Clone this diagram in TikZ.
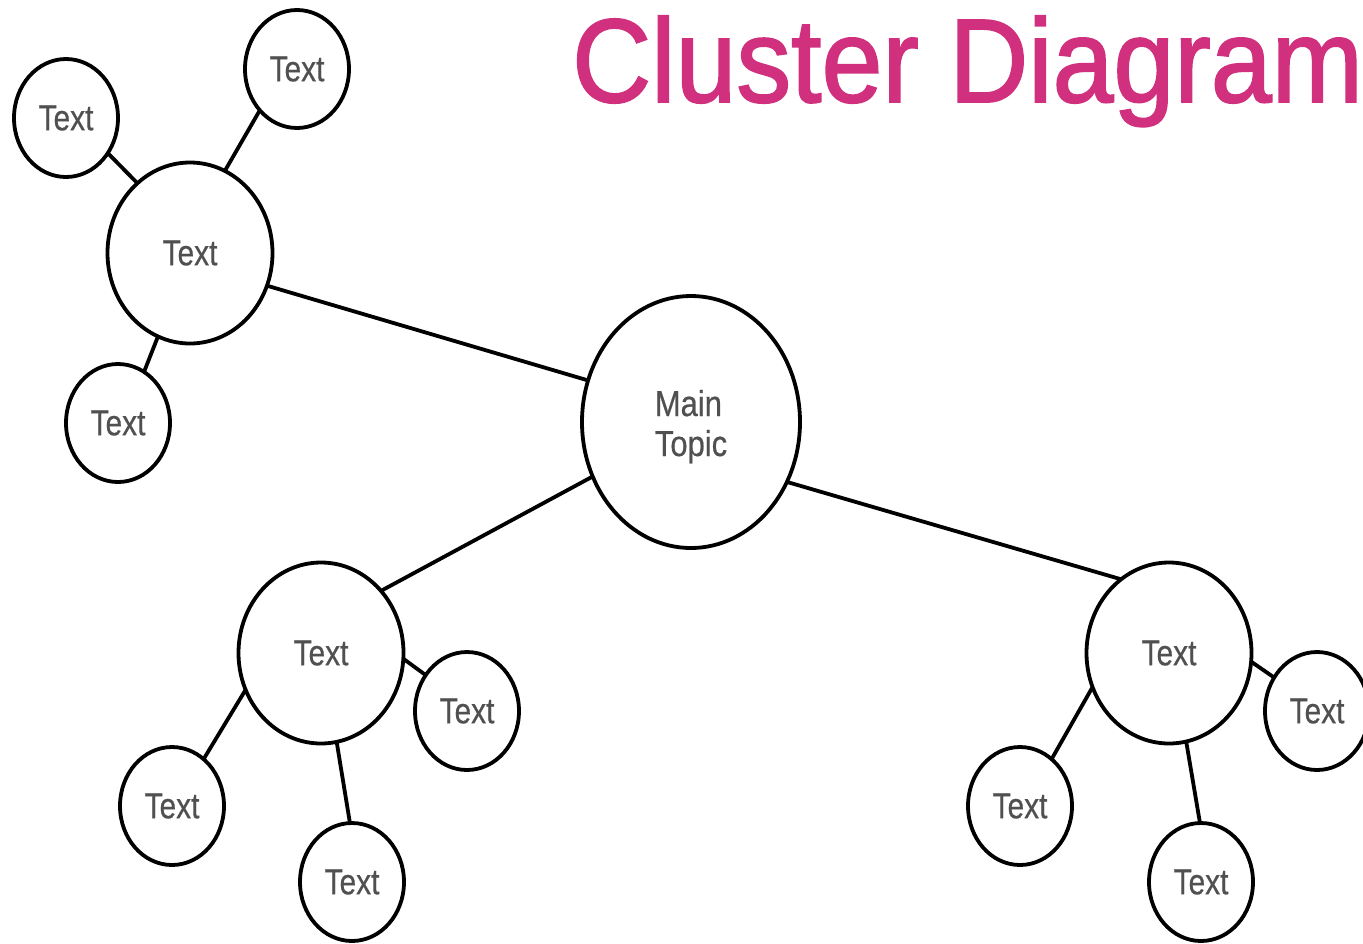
\documentclass[tikz,border=0pt]{standalone}
\usepackage{fontspec}
\usepackage{graphicx}
\setmainfont{Liberation Sans}
\newfontfamily\titlefont{Liberation Sans}[FakeBold=1.6]
\newfontfamily\nodefont{Liberation Sans}[FakeBold=0.6]
\usetikzlibrary{shapes.geometric}
\definecolor{titlepink}{RGB}{208,48,125}
\definecolor{txtgray}{RGB}{80,80,80}
\tikzset{
  bubble/.style={draw=black, line width=3.8pt, shape=ellipse, inner sep=0pt, outer sep=0pt,
    text=txtgray, font=\nodefont\fontsize{36}{40}\selectfont},
  small/.style={bubble, minimum width=104pt, minimum height=118pt},
  mid/.style={bubble, minimum width=165pt, minimum height=181pt},
  big/.style={bubble, minimum width=218pt, minimum height=252pt},
  link/.style={line width=3.8pt, draw=black},
}
\newcommand{\lbl}[1]{\scalebox{0.83}[1]{#1}}
\begin{document}
\begin{tikzpicture}[x=1pt,y=-1pt]
\useasboundingbox (0,0) rectangle (1363,943);
\node[anchor=base west, inner sep=0pt, text=titlepink, font=\titlefont\fontsize{119}{130}\selectfont] (title) at (572,102) {\scalebox{0.92}[1]{Cluster Diagram}};
% main
\node[big, label={[text=txtgray, font=\nodefont\fontsize{36}{40}\selectfont, yshift=-6pt]center:\scalebox{0.86}[1]{\begin{tabular}{@{}l@{}}Main\\Topic\end{tabular}}}] (main) at (691,422) {};
% clusters
\node[mid] (A) at (190,253) {\lbl{Text}};
\node[mid] (B) at (321,653) {\lbl{Text}};
\node[mid] (C) at (1169,653) {\lbl{Text}};
% small
\node[small] (A1) at (66,118) {\lbl{Text}};
\node[small] (A2) at (297,69) {\lbl{Text}};
\node[small] (A3) at (118,423) {\lbl{Text}};
\node[small] (B1) at (467,711) {\lbl{Text}};
\node[small] (B2) at (172,806) {\lbl{Text}};
\node[small] (B3) at (352,882) {\lbl{Text}};
\node[small] (C1) at (1317,711) {\lbl{Text}};
\node[small] (C2) at (1020,806) {\lbl{Text}};
\node[small] (C3) at (1201,882) {\lbl{Text}};
% links
\draw[link] (A.-23.1) -- (main.158.8);
\draw[link] (main.209) -- (B.46.9);
\draw[link] (main.-32.5) -- (C.123.9);
\draw[link] (A.127.1) -- (A1.-40.5);
\draw[link] (A.67.1) -- (A2.228.5);
\draw[link] (A.249.4) -- (A3.63.9);
\draw[link] (B.-4.9) -- (B1.139.4);
\draw[link] (B.206) -- (B2.56);
\draw[link] (B.280) -- (B3.92);
\draw[link] (C.-6.9) -- (C1.142);
\draw[link] (C.204.7) -- (C2.56);
\draw[link] (C.281.3) -- (C3.91);
\end{tikzpicture}
\end{document}
